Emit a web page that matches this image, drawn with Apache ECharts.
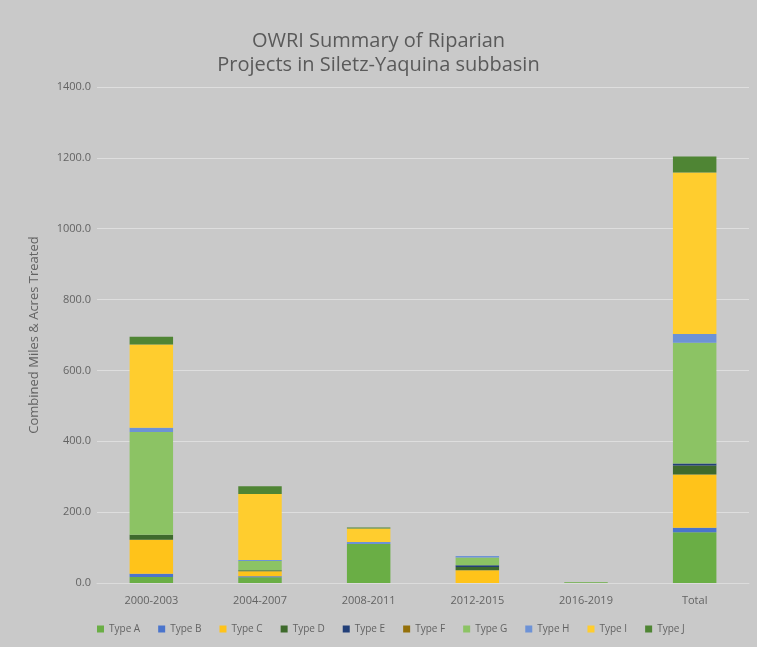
<!DOCTYPE html>
<html><head><meta charset="utf-8">
<script src="https://cdn.jsdelivr.net/npm/echarts@6/dist/echarts.min.js"></script>
<style>html,body{margin:0;padding:0;background:#c9c9c9;}#c{width:757px;height:647px;}</style>
</head><body><div id="c"></div>
<script>
const categories = ['2000-2003','2004-2007','2008-2011','2012-2015','2016-2019','Total'];
const seriesNames = ['Type A','Type B','Type C','Type D','Type E','Type F','Type G','Type H','Type I','Type J'];
const typeA = [17, 16, 110, 0, 2, 143];
const typeB = [9, 3, 0, 0, 0, 13];
const typeC = [96, 14, 0, 36, 0, 150];
const typeD = [14, 3, 0, 9, 0, 26];
const typeE = [0, 0, 0, 5, 0, 5];
const typeF = [0, 0, 0, 0, 0, 0];
const typeG = [290, 26, 0, 22, 0, 341];
const typeH = [12, 3, 6, 4, 0, 25];
const typeI = [235, 186, 38, 0, 0, 456];
const typeJ = [22, 22, 3, 0, 0, 45];
const yTicks = [0, 200, 400, 600, 800, 1000, 1200, 1400];
const colors = ['#6aae45','#4a74cc','#ffc31a','#3e6a2c','#223f78','#94700a','#8cc364','#6d92d6','#ffcd2e','#4f8534'];
const allData = [typeA,typeB,typeC,typeD,typeE,typeF,typeG,typeH,typeI,typeJ];

const chart = echarts.init(document.getElementById('c'));
chart.setOption({
  backgroundColor: '#c9c9c9',
  color: colors,
  title: {
    text: 'OWRI Summary of Riparian\nProjects in Siletz-Yaquina subbasin',
    left: 'center', top: 24,
    textStyle: {fontFamily: 'Open Sans', fontSize: 20, fontWeight: 'normal', color: '#5a5a5a', lineHeight: 24}
  },
  grid: {left: 97, right: 8, top: 87, bottom: 64},
  legend: {
    bottom: 8, left: 92,
    itemWidth: 7, itemHeight: 7, itemGap: 18, icon: 'rect',
    textStyle: {fontFamily: 'Open Sans', fontSize: 10, color: '#636363'},
    data: seriesNames
  },
  xAxis: {
    type: 'category', data: categories,
    axisLine: {show: true, lineStyle: {color: '#dcdcdc'}},
    axisTick: {show: false},
    axisLabel: {fontFamily: 'Open Sans', fontSize: 11, color: '#636363', margin: 12}
  },
  yAxis: {
    type: 'value', min: yTicks[0], max: yTicks[yTicks.length-1], interval: 200,
    name: 'Combined Miles & Acres Treated', nameLocation: 'middle', nameGap: 56,
    nameTextStyle: {fontFamily: 'Open Sans', fontSize: 13, color: '#636363'},
    axisLine: {show: false}, axisTick: {show: false},
    splitLine: {lineStyle: {color: '#dedede', width: 1}},
    axisLabel: {fontFamily: 'Open Sans', fontSize: 11, color: '#636363', margin: 6, formatter: v => v.toFixed(1)}
  },
  series: seriesNames.map((n, i) => ({
    name: n, type: 'bar', stack: 'all', barWidth: '40%',
    data: allData[i]
  }))
});
</script></body></html>
